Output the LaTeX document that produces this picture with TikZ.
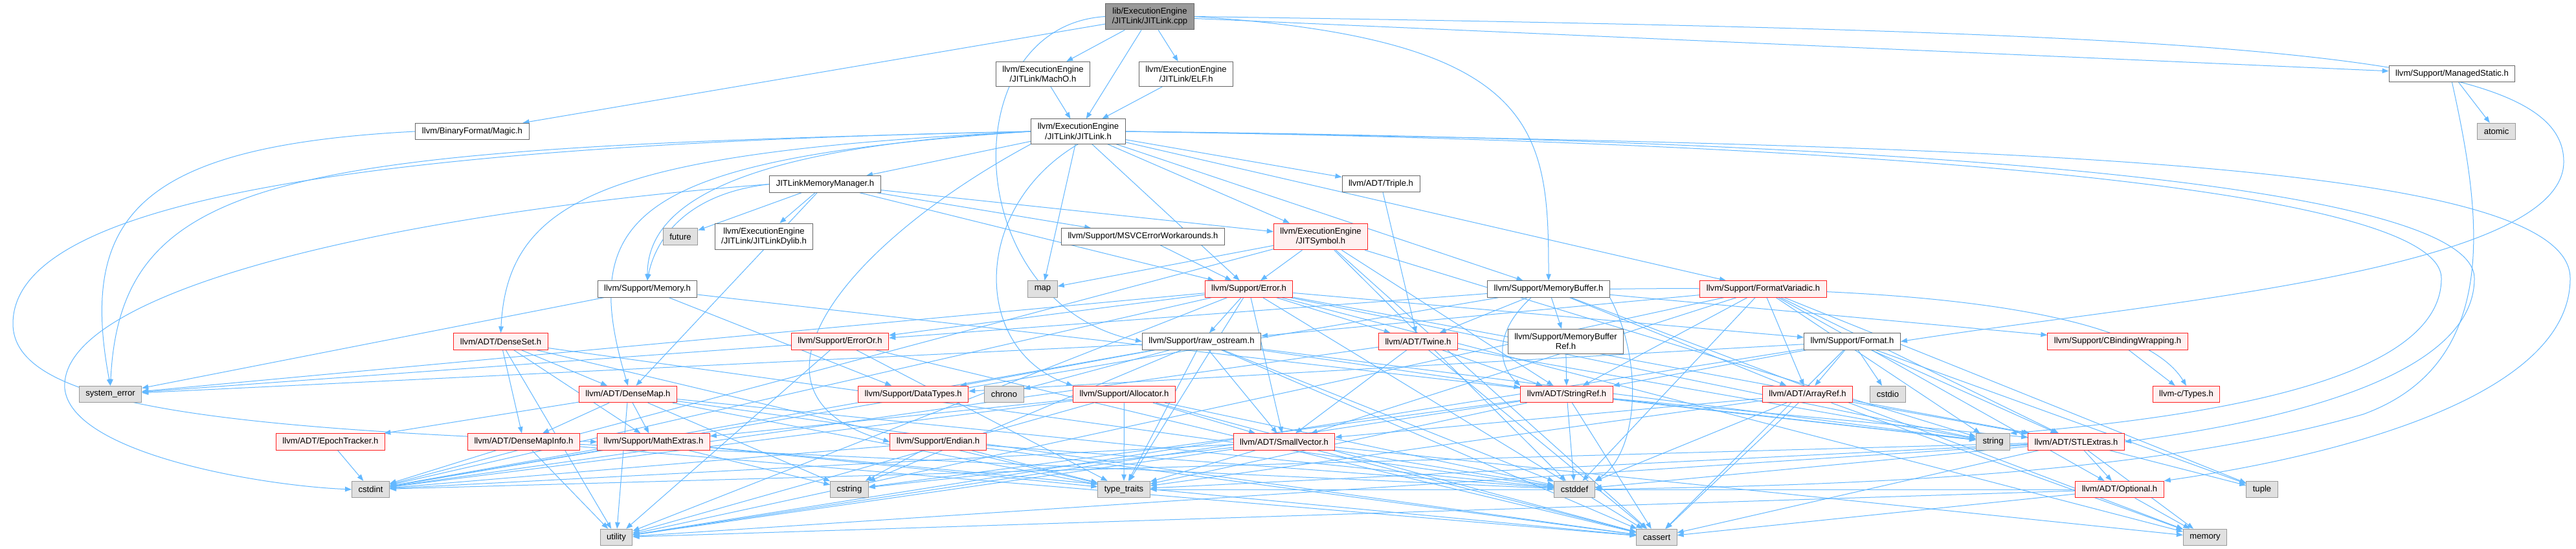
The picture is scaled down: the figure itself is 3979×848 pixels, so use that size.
\documentclass[tikz,border=0pt]{standalone}
\usepackage{fontspec}
\setmainfont{Liberation Sans}
\usetikzlibrary{arrows.meta}
\definecolor{edgeblue}{HTML}{63B8FF}
\definecolor{boxline}{HTML}{666666}
\definecolor{sysfill}{HTML}{E0E0E0}
\definecolor{sysline}{HTML}{999999}
\definecolor{truncfill}{HTML}{FFF0F0}
\definecolor{truncline}{HTML}{FF2020}
\pgfdeclarelayer{bg}
\pgfsetlayers{bg,main}

\begin{document}
\begin{tikzpicture}[x=1pt,y=-1pt,
  file/.style={draw=boxline, fill=white, line width=1pt, align=center,
    inner xsep=10pt, inner ysep=6.5pt, minimum height=25.5pt,
    font=\fontsize{13.1}{15.5}\selectfont},
  mainfile/.style={file, fill=sysline},
  trunc/.style={file, draw=truncline, fill=truncfill},
  sys/.style={file, draw=sysline, fill=sysfill},
  inc/.style={draw=edgeblue, line width=1pt, -{Triangle[length=10pt,width=7.5pt]}}]
  \useasboundingbox (0,0) rectangle (3979,848);

  % files
  \node[mainfile] (cpp) at (1776,25.5) {lib/ExecutionEngine\\/JITLink/JITLink.cpp};
  \node[file] (macho) at (1611,114.5) {llvm/ExecutionEngine\\/JITLink/MachO.h};
  \node[file] (elf) at (1832,114.5) {llvm/ExecutionEngine\\/JITLink/ELF.h};
  \node[file] (mstatic) at (3787.5,114) {llvm/Support/ManagedStatic.h};
  \node[file] (magic) at (729.5,203) {llvm/BinaryFormat/Magic.h};
  \node[file] (jitlinkh) at (1665.5,203) {llvm/ExecutionEngine\\/JITLink/JITLink.h};
  \node[sys] (atomic) at (3856,203) {atomic};
  \node[file] (memmgr) at (1274.5,284.5) {JITLinkMemoryManager.h};
  \node[file] (triple) at (2133,284) {llvm/ADT/Triple.h};
  \node[sys] (future) at (1051,365.5) {future};
  \node[file] (dylib) at (1180,365.5) {llvm/ExecutionEngine\\/JITLink/JITLinkDylib.h};
  \node[file] (msvc) at (1765.5,365.5) {llvm/Support/MSVCErrorWorkarounds.h};
  \node[trunc] (jitsym) at (2040,365.5) {llvm/ExecutionEngine\\/JITSymbol.h};
  \node[file] (memoryh) at (1000,446.5) {llvm/Support/Memory.h};
  \node[sys] (map) at (1610.5,446.5) {map};
  \node[trunc] (error) at (1929,446.5) {llvm/Support/Error.h};
  \node[file] (membuf) at (2392,446.5) {llvm/Support/MemoryBuffer.h};
  \node[trunc] (fmtvar) at (2723.5,446.5) {llvm/Support/FormatVariadic.h};
  \node[trunc] (denseset) at (773.5,527.5) {llvm/ADT/DenseSet.h};
  \node[trunc] (erroror) at (1297.5,527.5) {llvm/Support/ErrorOr.h};
  \node[file] (rawos) at (1856,527.5) {llvm/Support/raw\_ostream.h};
  \node[trunc] (twine) at (2190.5,527.5) {llvm/ADT/Twine.h};
  \node[file] (membufref) at (2418.5,527.5) {llvm/Support/MemoryBuffer\\Ref.h};
  \node[file] (format) at (2861,527.5) {llvm/Support/Format.h};
  \node[trunc] (cbind) at (3271,527.5) {llvm/Support/CBindingWrapping.h};
  \node[sys] (syserr) at (170.5,609) {system\_error};
  \node[trunc] (densemap) at (970,609) {llvm/ADT/DenseMap.h};
  \node[trunc] (datatypes) at (1410.7,609) {llvm/Support/DataTypes.h};
  \node[sys] (chrono) at (1551,609) {chrono};
  \node[trunc] (allocator) at (1736.5,609) {llvm/Support/Allocator.h};
  \node[trunc] (stringref) at (2420,609) {llvm/ADT/StringRef.h};
  \node[trunc] (arrayref) at (2792,609) {llvm/ADT/ArrayRef.h};
  \node[sys] (cstdio) at (2916,609) {cstdio};
  \node[trunc] (ctypes) at (3377,609) {llvm-c/Types.h};
  \node[trunc] (epoch) at (510.5,682.5) {llvm/ADT/EpochTracker.h};
  \node[trunc] (dmapinfo) at (809,682.5) {llvm/ADT/DenseMapInfo.h};
  \node[trunc] (mathext) at (1009.5,682.5) {llvm/Support/MathExtras.h};
  \node[trunc] (endian) at (1449,682.5) {llvm/Support/Endian.h};
  \node[trunc] (smallvec) at (1983.5,682.5) {llvm/ADT/SmallVector.h};
  \node[sys] (string) at (3078.5,682.5) {string};
  \node[trunc] (stlextras) at (3207,682.5) {llvm/ADT/STLExtras.h};
  \node[sys] (cstdint) at (572.5,756) {cstdint};
  \node[sys] (cstring) at (1312,756) {cstring};
  \node[sys] (typetraits) at (1736,756) {type\_traits};
  \node[sys] (cstddef) at (2432,756) {cstddef};
  \node[trunc] (optional) at (3274,756) {llvm/ADT/Optional.h};
  \node[sys] (tuple) at (3494,756) {tuple};
  \node[sys] (utility) at (952,830) {utility};
  \node[sys] (cassert) at (2559,830) {cassert};
  \node[sys] (memory) at (3406,830) {memory};

  % includes
  \begin{pgfonlayer}{bg}
  \fill[white] (0,0) rectangle (3979,848);
  \begin{scope}[every edge/.style={inc}]
  \path (cpp) edge (magic) edge (macho) edge (elf) edge (jitlinkh) edge (mstatic);
  \draw[inc] (cpp.east) .. controls (2380,60) and (2392,200) .. (membuf.north);
  \draw[inc] (cpp.west) .. controls (1470,40) and (1480,470) .. (rawos.west);
  \draw[inc] (cpp.east) .. controls (3500,50) and (3960,80) .. (3960,250)
    .. controls (3960,420) and (3300,470) .. (format.east);
  \path (macho) edge (jitlinkh);
  \path (elf) edge (jitlinkh);
  \draw[inc] (magic.west) .. controls (220,225) and (120,330) .. (syserr.north);
  \path (mstatic) edge (atomic);
  \draw[inc] (mstatic.south) .. controls (3830,320) and (3870,560) .. (3650,640)
    .. controls (3300,740) and (2800,750) .. (cstddef.east);

  \path (jitlinkh) edge (memmgr) edge (map) edge (error) edge (triple)
    edge (jitsym) edge (membuf) edge (fmtvar);
  \draw[inc] (jitlinkh.west) .. controls (950,235) and (784,300) .. (denseset.north);
  \draw[inc] (jitlinkh.west) .. controls (980,245) and (890,330) .. (densemap.north);
  \draw[inc] (jitlinkh.west) .. controls (1100,230) and (1000,330) .. (memoryh.north);
  \draw[inc] (jitlinkh.west) .. controls (450,230) and (187,260) .. (syserr.north);
  \draw[inc] (jitlinkh.west) .. controls (500,225) and (20,320) .. (20,500)
    .. controls (20,620) and (300,660) .. (mathext.west);
  \draw[inc] (jitlinkh.south west) .. controls (1300,380) and (1120,610) .. (endian.west);
  \draw[inc] (jitlinkh.south) .. controls (1500,320) and (1500,540) .. (allocator.north west);
  \draw[inc] (jitlinkh.east) .. controls (2900,220) and (3771,290) .. (3771,430)
    .. controls (3771,580) and (3450,640) .. (string.north east);
  \draw[inc] (jitlinkh.east) .. controls (2900,215) and (3822,280) .. (3822,430)
    .. controls (3822,600) and (3450,660) .. (stlextras.east);
  \draw[inc] (jitlinkh.east) .. controls (3000,225) and (3970,240) .. (3970,430)
    .. controls (3970,640) and (3500,720) .. (optional.north east);

  \path (memmgr) edge (future) edge (dylib) edge (msvc) edge (jitsym)
    edge (error) edge (densemap);
  \draw[inc] (memmgr.west) .. controls (1050,300) and (1010,380) .. (memoryh.north);
  \draw[inc] (memmgr.west) .. controls (600,330) and (90,450) .. (100,600)
    .. controls (110,700) and (400,750) .. (cstdint.west);

  \path (triple) edge (twine);
  \path (msvc) edge (error);
  \path (jitsym) edge (map) edge (error) edge (stringref) edge (cstddef)
    edge (cassert) edge (cstdint) edge (string);
  \path (memoryh) edge (datatypes) edge (syserr) edge (string);
  \path (error) edge (stlextras) edge (smallvec) edge (twine) edge (erroror)
    edge (format) edge (rawos) edge (cassert) edge (cstdint) edge (memory)
    edge (string) edge (syserr) edge (typetraits) edge (utility);
  \path (membuf) edge (arrayref) edge (twine) edge (cbind) edge (erroror)
    edge (membufref) edge (cstdint) edge (memory);
  \draw[inc] ([xshift=-27pt]membuf.south) .. controls (2300,520) and (2320,570) .. (stringref.north west);
  \draw[inc] (membuf.south east) .. controls (2540,560) and (2530,700) .. (cstddef.north east);
  \draw[inc] (membuf.east) .. controls (2900,440) and (3300,470) .. (ctypes.north);
  \path (fmtvar) edge (arrayref) edge (optional) edge (stlextras) edge (smallvec)
    edge (stringref) edge (rawos) edge (cstddef) edge (string) edge (tuple)
    edge (utility);
  \path (denseset) edge (densemap) edge (dmapinfo) edge (mathext)
    edge (typetraits) edge (utility) edge (cstddef);
  \path (erroror) edge (cassert) edge (syserr) edge (typetraits) edge (utility);
  \path (rawos) edge (stringref) edge (smallvec) edge (datatypes) edge (chrono)
    edge (cassert) edge (cstddef) edge (cstdint) edge (cstring) edge (string)
    edge (syserr) edge (typetraits);
  \path (twine) edge (smallvec) edge (stringref) edge (cassert) edge (cstdint)
    edge (string);
  \path (membufref) edge (stringref);
  \path (format) edge (arrayref) edge (stlextras) edge (stringref)
    edge (datatypes) edge (cassert) edge (cstdio) edge (tuple) edge (utility);
  \path (cbind) edge (ctypes);
  \path (densemap) edge (dmapinfo) edge (epoch) edge (mathext) edge (cassert)
    edge (cstddef) edge (cstring) edge (typetraits) edge (utility);
  \path (allocator) edge (smallvec) edge (mathext) edge (cassert) edge (cstddef)
    edge (cstdint) edge (typetraits) edge (utility);
  \path (stringref) edge (stlextras) edge (cassert) edge (cstddef) edge (cstring)
    edge (string) edge (typetraits) edge (utility);
  \path (arrayref) edge (smallvec) edge (stlextras) edge (cassert) edge (cstddef)
    edge (memory) edge (typetraits);
  \path (epoch) edge (cstdint);
  \path (dmapinfo) edge (cassert) edge (cstddef) edge (cstdint) edge (utility);
  \path (mathext) edge (cassert) edge (cstdint) edge (cstring) edge (typetraits);
  \path (endian) edge (cassert) edge (cstddef) edge (cstdint) edge (cstring)
    edge (typetraits);
  \path (smallvec) edge (cassert) edge (cstddef) edge (cstdint) edge (cstring)
    edge (memory) edge (typetraits) edge (utility);
  \path (stlextras) edge (optional) edge (cassert) edge (cstddef) edge (cstdint)
    edge (memory) edge (tuple) edge (typetraits) edge (utility);
  \path (optional) edge (cassert) edge (memory) edge (typetraits) edge (utility);
  \end{scope}
  \end{pgfonlayer}
\end{tikzpicture}
\end{document}
